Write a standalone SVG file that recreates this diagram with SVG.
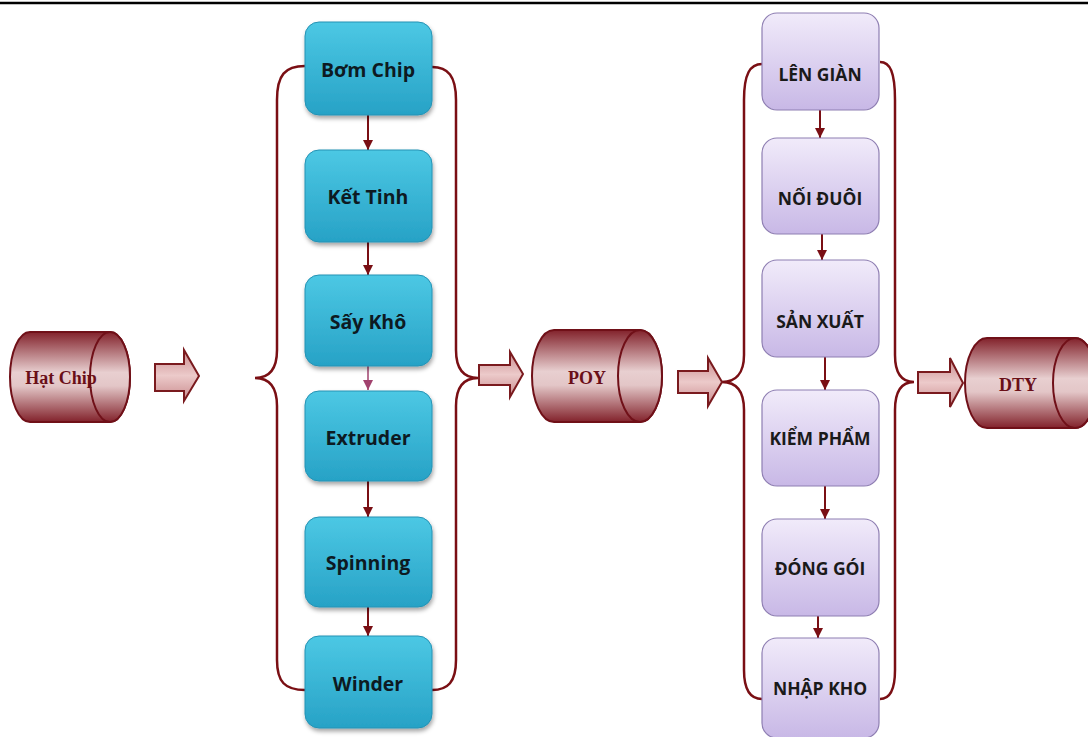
<svg xmlns="http://www.w3.org/2000/svg" width="1088" height="737" viewBox="0 0 1088 737">
<defs>
<linearGradient id="gBlue" x1="0" y1="0" x2="0" y2="1">
<stop offset="0" stop-color="#4cc8e4"/>
<stop offset="1" stop-color="#27a2c6"/>
</linearGradient>
<linearGradient id="gPurple" x1="0" y1="0" x2="0" y2="1">
<stop offset="0" stop-color="#f1ebfa"/>
<stop offset="1" stop-color="#c8b8e6"/>
</linearGradient>
<linearGradient id="gCyl" x1="0" y1="0" x2="0" y2="1">
<stop offset="0" stop-color="#82222b"/>
<stop offset="0.45" stop-color="#e8cfd0"/>
<stop offset="0.6" stop-color="#e3c6c7"/>
<stop offset="1" stop-color="#82222b"/>
</linearGradient>
<linearGradient id="gArrow" x1="0" y1="0" x2="0" y2="1">
<stop offset="0" stop-color="#c98a8d"/>
<stop offset="0.5" stop-color="#eccaca"/>
<stop offset="1" stop-color="#c98a8d"/>
</linearGradient>
<filter id="sh" x="-10%" y="-10%" width="125%" height="130%">
<feDropShadow dx="1" dy="3" stdDeviation="2" flood-color="#000" flood-opacity="0.35"/>
</filter>
<marker id="ah" markerUnits="userSpaceOnUse" markerWidth="12" markerHeight="12" refX="10" refY="5" orient="auto">
<path d="M0,0 L10,5 L0,10 Z" fill="#7a0f14"/>
</marker>
<marker id="ahp" markerUnits="userSpaceOnUse" markerWidth="12" markerHeight="12" refX="10" refY="5" orient="auto">
<path d="M0,0 L10,5 L0,10 Z" fill="#a1426e"/>
</marker>
<style>
.blue{fill:url(#gBlue);stroke:#2492b4;stroke-width:1;filter:url(#sh)}
.purple{fill:url(#gPurple);stroke:#8e7eb2;stroke-width:1.2}
.bt{font-family:"Open Sans","Liberation Sans",sans-serif;font-weight:bold;font-size:19.5px;fill:#0d1a22;text-anchor:middle;dominant-baseline:central}
.pt{font-family:"Open Sans","Liberation Sans",sans-serif;font-weight:bold;font-size:17.5px;fill:#1a1a1a;text-anchor:middle;dominant-baseline:central}
.cyl{fill:url(#gCyl);stroke:#701018;stroke-width:2}
.ct{font-family:"Liberation Serif",serif;font-weight:bold;font-size:18px;fill:#6a0f18;text-anchor:middle;dominant-baseline:central}
.brace{fill:none;stroke:#7a0f14;stroke-width:2.5}
.flow{stroke:#7a0f14;stroke-width:2;marker-end:url(#ah)}
.flowp{stroke:#a1426e;stroke-width:1.5;marker-end:url(#ahp)}
.barrow{fill:url(#gArrow);stroke:#7a1a1e;stroke-width:2}
</style>
</defs>
<rect width="1088" height="737" fill="#fff"/>
<line x1="0" y1="3" x2="1088" y2="3" stroke="#000" stroke-width="2.5"/>

<g id="connectors">
<path class="brace" d="M305,66 C285,66 277,75 277,100 L277,350 C277,370 268,378 255,378 C268,378 277,386 277,406 L277,660 C277,682 285,690 305,690"/>
<path class="brace" d="M432,67 C448,67 456,76 456,100 L456,350 C456,370 465,378 478,378 C465,378 456,386 456,406 L456,660 C456,682 448,690 432,690"/>
<path class="brace" d="M762,64 C750,64 744,74 744,100 L744,355 C744,374 735,382 722,382 C735,382 744,390 744,410 L744,670 C744,690 750,699 762,699"/>
<path class="brace" d="M880,62 C890,62 895,72 895,100 L895,355 C895,374 902,382 914,382 C902,382 895,390 895,410 L895,670 C895,690 890,699 880,699"/>
<line class="flow" x1="368" y1="115" x2="368" y2="150"/>
<line class="flow" x1="368" y1="242" x2="368" y2="275"/>
<line class="flowp" x1="368" y1="366" x2="368" y2="390"/>
<line class="flow" x1="368" y1="481" x2="368" y2="517"/>
<line class="flow" x1="368" y1="607" x2="368" y2="636"/>
<line class="flow" x1="820" y1="110" x2="820" y2="138"/>
<line class="flow" x1="822" y1="234" x2="822" y2="260"/>
<line class="flow" x1="825" y1="357" x2="825" y2="390"/>
<line class="flow" x1="825" y1="486" x2="825" y2="519"/>
<line class="flow" x1="818" y1="616" x2="818" y2="638"/>
<path class="barrow" d="M155,364 L184,364 L184,350 L199,376 L184,401 L184,391 L155,391 Z"/>
<path class="barrow" d="M479,365 L510,365 L510,352 L523,374 L510,397 L510,385 L479,385 Z"/>
<path class="barrow" d="M678,371 L708,371 L708,358 L722,382 L708,406 L708,393 L678,393 Z"/>
<path class="barrow" d="M918,372 L950,372 L950,358 L963,383 L950,407 L950,393 L918,393 Z"/>
</g>

<g id="hat-chip">
<path class="cyl" d="M30,332 L110,332 A20,45 0 0 1 110,422 L30,422 A20,45 0 0 1 30,332 Z"/>
<ellipse class="cyl" cx="110" cy="377" rx="20" ry="45"/>
<text class="ct" x="61" y="378">Hạt Chip</text>
</g>
<g id="poy">
<path class="cyl" d="M554,330 L640,330 A22,46 0 0 1 640,422 L554,422 A22,46 0 0 1 554,330 Z"/>
<ellipse class="cyl" cx="640" cy="376" rx="22" ry="46"/>
<text class="ct" x="587" y="378">POY</text>
</g>
<g id="dty">
<path class="cyl" d="M987,338 L1075,338 A22,45 0 0 1 1075,428 L987,428 A22,45 0 0 1 987,338 Z"/>
<ellipse class="cyl" cx="1075" cy="383" rx="22" ry="45"/>
<text class="ct" x="1018" y="385">DTY</text>
</g>

<g id="bom-chip"><rect class="blue" x="305" y="22" width="127" height="93" rx="14"/><text class="bt" x="368" y="69">Bơm Chip</text></g>
<g id="ket-tinh"><rect class="blue" x="305" y="150" width="127" height="92" rx="14"/><text class="bt" x="368" y="196">Kết Tinh</text></g>
<g id="say-kho"><rect class="blue" x="305" y="275" width="127" height="91" rx="14"/><text class="bt" x="368" y="321">Sấy Khô</text></g>
<g id="extruder"><rect class="blue" x="305" y="391" width="127" height="90" rx="14"/><text class="bt" x="368" y="437">Extruder</text></g>
<g id="spinning"><rect class="blue" x="305" y="517" width="127" height="90" rx="14"/><text class="bt" x="368" y="562">Spinning</text></g>
<g id="winder"><rect class="blue" x="305" y="636" width="127" height="92" rx="14"/><text class="bt" x="368" y="683">Winder</text></g>

<g id="len-gian"><rect class="purple" x="762" y="13" width="117" height="97" rx="15"/><text class="pt" x="820" y="74">LÊN GIÀN</text></g>
<g id="noi-duoi"><rect class="purple" x="762" y="138" width="117" height="96" rx="15"/><text class="pt" x="820" y="198">NỐI ĐUÔI</text></g>
<g id="san-xuat"><rect class="purple" x="762" y="260" width="117" height="97" rx="15"/><text class="pt" x="820" y="321">SẢN XUẤT</text></g>
<g id="kiem-pham"><rect class="purple" x="762" y="390" width="117" height="96" rx="15"/><text class="pt" x="820" y="438">KIỂM PHẨM</text></g>
<g id="dong-goi"><rect class="purple" x="762" y="519" width="117" height="97" rx="15"/><text class="pt" x="820" y="568">ĐÓNG GÓI</text></g>
<g id="nhap-kho"><rect class="purple" x="762" y="638" width="117" height="100" rx="15"/><text class="pt" x="820" y="688">NHẬP KHO</text></g>
</svg>
